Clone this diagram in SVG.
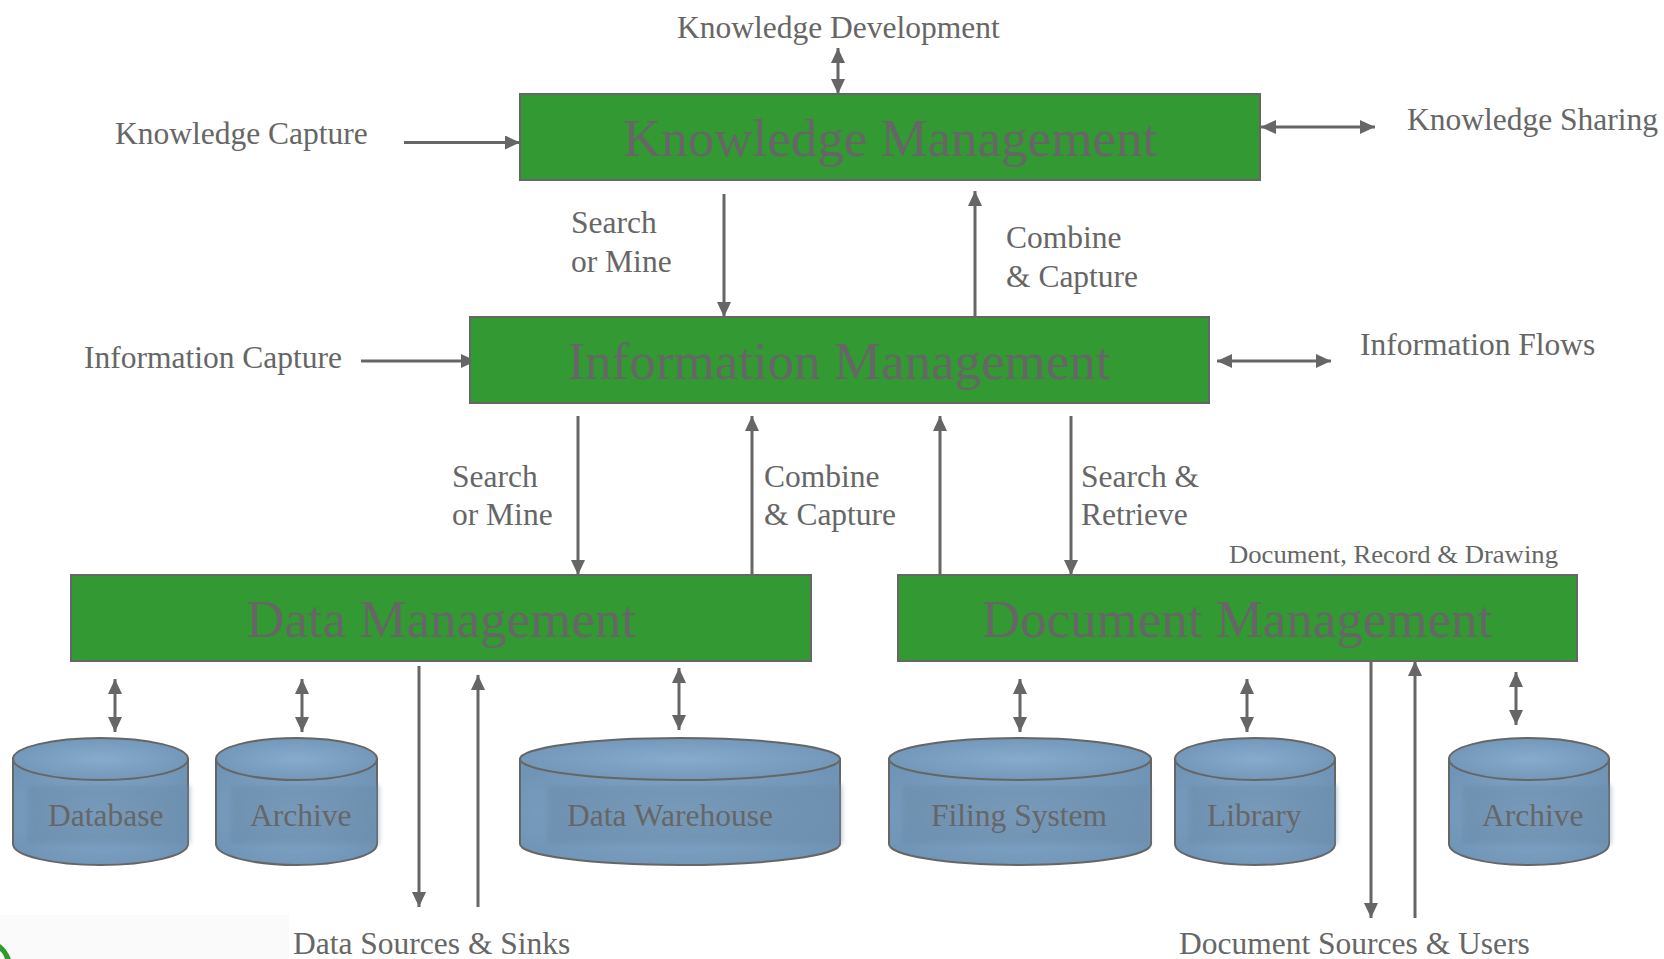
<svg xmlns="http://www.w3.org/2000/svg" width="1664" height="959" viewBox="0 0 1664 959">
<style>
.t{font-family:"Liberation Serif","Times New Roman",serif;font-size:31.5px;fill:#666666}
.big{font-family:"Liberation Serif","Times New Roman",serif;font-size:53px;fill:#666666}
.box{fill:#339933;stroke:#666666;stroke-width:2}
.ln{stroke:#666666;stroke-width:3;fill:none}
.a1{marker-end:url(#ah)}
.a2{marker-start:url(#ah);marker-end:url(#ah)}
.cyl{fill:url(#cg);stroke:#666666;stroke-width:2}
.lab{fill:#6b8aa8;opacity:.5;filter:url(#bl)}
</style>
<defs>
<marker id="ah" viewBox="0 0 15 14" refX="15" refY="7" markerWidth="15" markerHeight="14" markerUnits="userSpaceOnUse" orient="auto-start-reverse"><path d="M0,0 L15,7 L0,14 z" fill="#666666"/></marker>
<radialGradient id="cg" cx="0.5" cy="0.5" r="0.6"><stop offset="0" stop-color="#86abcc"/><stop offset="1" stop-color="#6f94b5"/></radialGradient>
<filter id="bl" x="-10%" y="-20%" width="120%" height="140%"><feGaussianBlur stdDeviation="2.5"/></filter>
</defs>

<rect x="0" y="915" width="289" height="44" fill="#fafafa"/>
<path d="M0,944 Q7,949 11,959 L5,959 Q3,953 0,951 Z" fill="#2f9a2f"/>

<g id="connectors">
<line class="ln a2" x1="838" y1="48" x2="838" y2="94"/>
<line class="ln a1" x1="404" y1="142.5" x2="520" y2="142.5"/>
<line class="ln a2" x1="1261" y1="127" x2="1375" y2="127"/>
<line class="ln a1" x1="724" y1="194" x2="724" y2="317"/>
<line class="ln a1" x1="975" y1="317" x2="975" y2="191"/>
<line class="ln a1" x1="361" y1="361" x2="476" y2="361"/>
<line class="ln a2" x1="1217" y1="361" x2="1331" y2="361"/>
<line class="ln a1" x1="578" y1="416" x2="578" y2="575"/>
<line class="ln a1" x1="752" y1="575" x2="752" y2="416"/>
<line class="ln a1" x1="940" y1="575" x2="940" y2="416"/>
<line class="ln a1" x1="1071" y1="416" x2="1071" y2="575"/>
<line class="ln a2" x1="115" y1="679" x2="115" y2="732"/>
<line class="ln a2" x1="302" y1="679" x2="302" y2="732"/>
<line class="ln a1" x1="419" y1="666" x2="419" y2="907"/>
<line class="ln a1" x1="478" y1="907" x2="478" y2="675"/>
<line class="ln a2" x1="679" y1="668" x2="679" y2="730"/>
<line class="ln a2" x1="1020" y1="679" x2="1020" y2="732"/>
<line class="ln a2" x1="1247" y1="679" x2="1247" y2="732"/>
<line class="ln a1" x1="1371" y1="661" x2="1371" y2="918"/>
<line class="ln a1" x1="1415" y1="918" x2="1415" y2="661"/>
<line class="ln a2" x1="1516" y1="672" x2="1516" y2="725"/>
</g>

<g id="knowledge-management">
<rect class="box" x="520" y="94" width="740" height="86"/>
<text class="big" x="890" y="156" text-anchor="middle">Knowledge Management</text>
</g>
<g id="information-management">
<rect class="box" x="470" y="317" width="739" height="86"/>
<text class="big" x="839" y="379" text-anchor="middle">Information Management</text>
</g>
<g id="data-management">
<rect class="box" x="71" y="575" width="740" height="86"/>
<text class="big" x="441" y="637" text-anchor="middle">Data Management</text>
</g>
<g id="document-management">
<rect class="box" x="898" y="575" width="679" height="86"/>
<text class="big" x="1237" y="637" text-anchor="middle">Document Management</text>
</g>

<g id="labels">
<text class="t" x="677" y="38">Knowledge Development</text>
<text class="t" x="115" y="144">Knowledge Capture</text>
<text class="t" x="1407" y="130">Knowledge Sharing</text>
<text class="t" x="571" y="233">Search</text>
<text class="t" x="571" y="272">or Mine</text>
<text class="t" x="1006" y="248">Combine</text>
<text class="t" x="1006" y="287">&amp; Capture</text>
<text class="t" x="84" y="368">Information Capture</text>
<text class="t" x="1360" y="355">Information Flows</text>
<text class="t" x="452" y="487">Search</text>
<text class="t" x="452" y="525">or Mine</text>
<text class="t" x="764" y="487">Combine</text>
<text class="t" x="764" y="525">&amp; Capture</text>
<text class="t" x="1081" y="487">Search &amp;</text>
<text class="t" x="1081" y="525">Retrieve</text>
<text class="t" x="1229" y="563" style="font-size:26px" textLength="329" lengthAdjust="spacingAndGlyphs">Document, Record &amp; Drawing</text>
<text class="t" x="293" y="954">Data Sources &amp; Sinks</text>
<text class="t" x="1179" y="954">Document Sources &amp; Users</text>
</g>

<g id="database">
<path class="cyl" d="M13,759 V844 A87.5,21 0 0 0 188,844 V759 Z"/>
<ellipse class="cyl" cx="100.5" cy="759" rx="87.5" ry="21"/>
<rect class="lab" x="27" y="785" width="163" height="59"/>
<text class="t" x="48" y="826">Database</text>
</g>
<g id="archive-data">
<path class="cyl" d="M216,759 V844 A80.5,21 0 0 0 377,844 V759 Z"/>
<ellipse class="cyl" cx="296.5" cy="759" rx="80.5" ry="21"/>
<rect class="lab" x="230" y="785" width="149" height="59"/>
<text class="t" x="250" y="826">Archive</text>
</g>
<g id="data-warehouse">
<path class="cyl" d="M520,759 V844 A160,21 0 0 0 840,844 V759 Z"/>
<ellipse class="cyl" cx="680" cy="759" rx="160" ry="21"/>
<rect class="lab" x="547" y="785" width="295" height="59"/>
<text class="t" x="567" y="826">Data Warehouse</text>
</g>
<g id="filing-system">
<path class="cyl" d="M889,759 V844 A131,21 0 0 0 1151,844 V759 Z"/>
<ellipse class="cyl" cx="1020" cy="759" rx="131" ry="21"/>
<rect class="lab" x="902" y="785" width="248" height="59"/>
<text class="t" x="931" y="826">Filing System</text>
</g>
<g id="library">
<path class="cyl" d="M1175,759 V844 A80,21 0 0 0 1335,844 V759 Z"/>
<ellipse class="cyl" cx="1255" cy="759" rx="80" ry="21"/>
<rect class="lab" x="1188" y="785" width="149" height="59"/>
<text class="t" x="1207" y="826">Library</text>
</g>
<g id="archive-document">
<path class="cyl" d="M1449,759 V844 A80,21 0 0 0 1609,844 V759 Z"/>
<ellipse class="cyl" cx="1529" cy="759" rx="80" ry="21"/>
<rect class="lab" x="1462" y="785" width="149" height="59"/>
<text class="t" x="1482" y="826">Archive</text>
</g>
</svg>
